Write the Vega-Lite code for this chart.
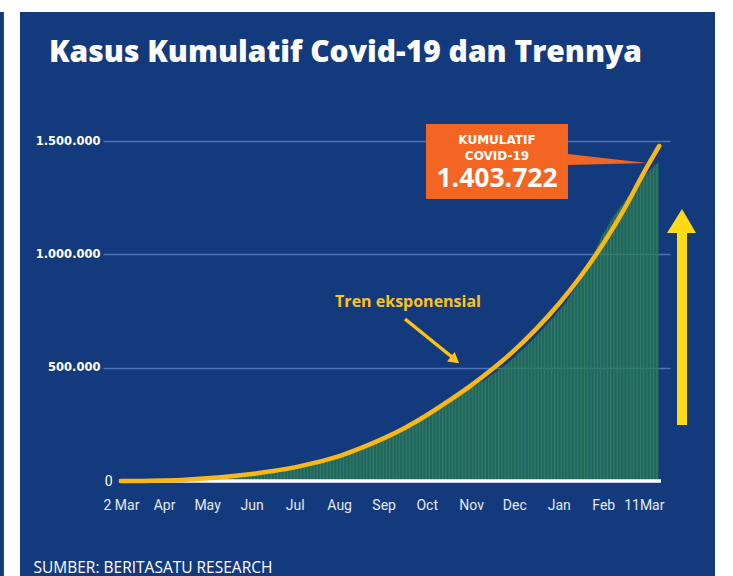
{
"$schema": "https://vega.github.io/schema/vega-lite/v6.json",
"width": 567, "height": 340, "autosize": "none",
"padding": {"left": 103, "top": 141, "right": 63, "bottom": 95},
"background": "#143a7e",
"config": {"view": {"stroke": null}},
"datasets": {
"strips": [
{"date": "2019-12-11T11:17:00Z", "date2": "2019-12-22T16:19:00Z", "value": -600000, "value2": 2069100},
{"date": "2019-11-01T00:00:00Z", "date2": "2021-06-01T00:00:00Z", "value": 2069100, "value2": 2300000},
{"date": "2021-04-19T20:24:00Z", "date2": "2021-06-01T00:00:00Z", "value": -600000, "value2": 2300000}
],
"headline": [{"date": "2020-01-11T21:07:00Z", "value": 1848500, "text": "Kasus Kumulatif Covid-19 dan Trennya"}],
"bars": [
{"date":"2020-03-02","value":2},{"date":"2020-03-03","value":2},{"date":"2020-03-04","value":2},{"date":"2020-03-05","value":2},{"date":"2020-03-06","value":4},{"date":"2020-03-07","value":4},{"date":"2020-03-08","value":6},{"date":"2020-03-09","value":19},{"date":"2020-03-10","value":27},{"date":"2020-03-11","value":34},{"date":"2020-03-12","value":34},{"date":"2020-03-13","value":69},{"date":"2020-03-14","value":96},{"date":"2020-03-15","value":117},{"date":"2020-03-16","value":134},{"date":"2020-03-17","value":172},{"date":"2020-03-18","value":227},{"date":"2020-03-19","value":309},{"date":"2020-03-20","value":369},{"date":"2020-03-21","value":450},{"date":"2020-03-22","value":514},{"date":"2020-03-23","value":579},{"date":"2020-03-24","value":686},{"date":"2020-03-25","value":790},{"date":"2020-03-26","value":893},{"date":"2020-03-27","value":1046},{"date":"2020-03-28","value":1155},{"date":"2020-03-29","value":1285},{"date":"2020-03-30","value":1414},{"date":"2020-03-31","value":1528},
{"date":"2020-04-01","value":1677},{"date":"2020-04-02","value":1790},{"date":"2020-04-03","value":1986},{"date":"2020-04-04","value":2092},{"date":"2020-04-05","value":2273},{"date":"2020-04-06","value":2491},{"date":"2020-04-07","value":2738},{"date":"2020-04-08","value":2956},{"date":"2020-04-09","value":3293},{"date":"2020-04-10","value":3512},{"date":"2020-04-11","value":3842},{"date":"2020-04-12","value":4241},{"date":"2020-04-13","value":4557},{"date":"2020-04-14","value":4839},{"date":"2020-04-15","value":5136},{"date":"2020-04-16","value":5516},{"date":"2020-04-17","value":5923},{"date":"2020-04-18","value":6248},{"date":"2020-04-19","value":6575},{"date":"2020-04-20","value":6760},{"date":"2020-04-21","value":7135},{"date":"2020-04-22","value":7418},{"date":"2020-04-23","value":7775},{"date":"2020-04-24","value":8211},{"date":"2020-04-25","value":8607},{"date":"2020-04-26","value":8882},{"date":"2020-04-27","value":9096},{"date":"2020-04-28","value":9511},{"date":"2020-04-29","value":9771},{"date":"2020-04-30","value":10118},
{"date":"2020-05-01","value":10551},{"date":"2020-05-02","value":10843},{"date":"2020-05-03","value":11192},{"date":"2020-05-04","value":11587},{"date":"2020-05-05","value":12071},{"date":"2020-05-06","value":12438},{"date":"2020-05-07","value":12776},{"date":"2020-05-08","value":13112},{"date":"2020-05-09","value":13645},{"date":"2020-05-10","value":14032},{"date":"2020-05-11","value":14265},{"date":"2020-05-12","value":14749},{"date":"2020-05-13","value":15438},{"date":"2020-05-14","value":16006},{"date":"2020-05-15","value":16496},{"date":"2020-05-16","value":17025},{"date":"2020-05-17","value":17514},{"date":"2020-05-18","value":18010},{"date":"2020-05-19","value":18496},{"date":"2020-05-20","value":19189},{"date":"2020-05-21","value":20162},{"date":"2020-05-22","value":20796},{"date":"2020-05-23","value":21745},{"date":"2020-05-24","value":22271},{"date":"2020-05-25","value":22750},{"date":"2020-05-26","value":23165},{"date":"2020-05-27","value":23851},{"date":"2020-05-28","value":24538},{"date":"2020-05-29","value":25216},{"date":"2020-05-30","value":25773},{"date":"2020-05-31","value":26473},
{"date":"2020-06-01","value":26940},{"date":"2020-06-02","value":27549},{"date":"2020-06-03","value":28233},{"date":"2020-06-04","value":28818},{"date":"2020-06-05","value":29521},{"date":"2020-06-06","value":30514},{"date":"2020-06-07","value":31186},{"date":"2020-06-08","value":32033},{"date":"2020-06-09","value":33076},{"date":"2020-06-10","value":34316},{"date":"2020-06-11","value":35295},{"date":"2020-06-12","value":36406},{"date":"2020-06-13","value":37420},{"date":"2020-06-14","value":38277},{"date":"2020-06-15","value":39294},{"date":"2020-06-16","value":40400},{"date":"2020-06-17","value":41431},{"date":"2020-06-18","value":42762},{"date":"2020-06-19","value":43803},{"date":"2020-06-20","value":45029},{"date":"2020-06-21","value":45891},{"date":"2020-06-22","value":46845},{"date":"2020-06-23","value":47896},{"date":"2020-06-24","value":49009},{"date":"2020-06-25","value":50187},{"date":"2020-06-26","value":51427},{"date":"2020-06-27","value":52812},{"date":"2020-06-28","value":54010},{"date":"2020-06-29","value":55092},{"date":"2020-06-30","value":56385},
{"date":"2020-07-01","value":57770},{"date":"2020-07-02","value":59394},{"date":"2020-07-03","value":60695},{"date":"2020-07-04","value":62142},{"date":"2020-07-05","value":63749},{"date":"2020-07-06","value":64958},{"date":"2020-07-07","value":66226},{"date":"2020-07-08","value":68079},{"date":"2020-07-09","value":70736},{"date":"2020-07-10","value":72347},{"date":"2020-07-11","value":74018},{"date":"2020-07-12","value":75699},{"date":"2020-07-13","value":76981},{"date":"2020-07-14","value":78572},{"date":"2020-07-15","value":80094},{"date":"2020-07-16","value":81668},{"date":"2020-07-17","value":83130},{"date":"2020-07-18","value":84882},{"date":"2020-07-19","value":86521},{"date":"2020-07-20","value":88214},{"date":"2020-07-21","value":89869},{"date":"2020-07-22","value":91751},{"date":"2020-07-23","value":93657},{"date":"2020-07-24","value":95418},{"date":"2020-07-25","value":97286},{"date":"2020-07-26","value":98778},{"date":"2020-07-27","value":100303},{"date":"2020-07-28","value":102051},{"date":"2020-07-29","value":104432},{"date":"2020-07-30","value":106336},{"date":"2020-07-31","value":108376},
{"date":"2020-08-01","value":109936},{"date":"2020-08-02","value":111455},{"date":"2020-08-03","value":113134},{"date":"2020-08-04","value":115056},{"date":"2020-08-05","value":116871},{"date":"2020-08-06","value":118753},{"date":"2020-08-07","value":121226},{"date":"2020-08-08","value":123503},{"date":"2020-08-09","value":125396},{"date":"2020-08-10","value":127083},{"date":"2020-08-11","value":128776},{"date":"2020-08-12","value":130718},{"date":"2020-08-13","value":132816},{"date":"2020-08-14","value":135123},{"date":"2020-08-15","value":137468},{"date":"2020-08-16","value":139549},{"date":"2020-08-17","value":141370},{"date":"2020-08-18","value":143043},{"date":"2020-08-19","value":144945},{"date":"2020-08-20","value":147211},{"date":"2020-08-21","value":149408},{"date":"2020-08-22","value":151498},{"date":"2020-08-23","value":153535},{"date":"2020-08-24","value":155412},{"date":"2020-08-25","value":157859},{"date":"2020-08-26","value":160165},{"date":"2020-08-27","value":162884},{"date":"2020-08-28","value":165887},{"date":"2020-08-29","value":169195},{"date":"2020-08-30","value":172053},{"date":"2020-08-31","value":174796},
{"date":"2020-09-01","value":177571},{"date":"2020-09-02","value":180646},{"date":"2020-09-03","value":184268},{"date":"2020-09-04","value":187537},{"date":"2020-09-05","value":190665},{"date":"2020-09-06","value":194109},{"date":"2020-09-07","value":196989},{"date":"2020-09-08","value":200035},{"date":"2020-09-09","value":203342},{"date":"2020-09-10","value":207203},{"date":"2020-09-11","value":210940},{"date":"2020-09-12","value":214746},{"date":"2020-09-13","value":218382},{"date":"2020-09-14","value":221523},{"date":"2020-09-15","value":225030},{"date":"2020-09-16","value":228993},{"date":"2020-09-17","value":232628},{"date":"2020-09-18","value":236519},{"date":"2020-09-19","value":240687},{"date":"2020-09-20","value":244676},{"date":"2020-09-21","value":248852},{"date":"2020-09-22","value":252923},{"date":"2020-09-23","value":257388},{"date":"2020-09-24","value":262022},{"date":"2020-09-25","value":266845},{"date":"2020-09-26","value":271339},{"date":"2020-09-27","value":275213},{"date":"2020-09-28","value":278722},{"date":"2020-09-29","value":282724},{"date":"2020-09-30","value":287008},
{"date":"2020-10-01","value":291182},{"date":"2020-10-02","value":295499},{"date":"2020-10-03","value":299506},{"date":"2020-10-04","value":303498},{"date":"2020-10-05","value":307120},{"date":"2020-10-06","value":311176},{"date":"2020-10-07","value":315714},{"date":"2020-10-08","value":320564},{"date":"2020-10-09","value":324658},{"date":"2020-10-10","value":328952},{"date":"2020-10-11","value":333449},{"date":"2020-10-12","value":336716},{"date":"2020-10-13","value":340622},{"date":"2020-10-14","value":344749},{"date":"2020-10-15","value":349160},{"date":"2020-10-16","value":353461},{"date":"2020-10-17","value":357762},{"date":"2020-10-18","value":361867},{"date":"2020-10-19","value":365240},{"date":"2020-10-20","value":368842},{"date":"2020-10-21","value":373109},{"date":"2020-10-22","value":377541},{"date":"2020-10-23","value":381910},{"date":"2020-10-24","value":385980},{"date":"2020-10-25","value":389712},{"date":"2020-10-26","value":392934},{"date":"2020-10-27","value":396454},{"date":"2020-10-28","value":400483},{"date":"2020-10-29","value":404048},{"date":"2020-10-30","value":406945},{"date":"2020-10-31","value":410088},
{"date":"2020-11-01","value":412784},{"date":"2020-11-02","value":415402},{"date":"2020-11-03","value":418375},{"date":"2020-11-04","value":421731},{"date":"2020-11-05","value":425796},{"date":"2020-11-06","value":429574},{"date":"2020-11-07","value":433836},{"date":"2020-11-08","value":437716},{"date":"2020-11-09","value":440569},{"date":"2020-11-10","value":444348},{"date":"2020-11-11","value":448118},{"date":"2020-11-12","value":452291},{"date":"2020-11-13","value":457735},{"date":"2020-11-14","value":463007},{"date":"2020-11-15","value":467113},{"date":"2020-11-16","value":470648},{"date":"2020-11-17","value":474455},{"date":"2020-11-18","value":478720},{"date":"2020-11-19","value":483518},{"date":"2020-11-20","value":488310},{"date":"2020-11-21","value":493308},{"date":"2020-11-22","value":497668},{"date":"2020-11-23","value":502110},{"date":"2020-11-24","value":506302},{"date":"2020-11-25","value":511836},{"date":"2020-11-26","value":516753},{"date":"2020-11-27","value":522581},{"date":"2020-11-28","value":527999},{"date":"2020-11-29","value":534266},{"date":"2020-11-30","value":538883},
{"date":"2020-12-01","value":543975},{"date":"2020-12-02","value":549508},{"date":"2020-12-03","value":557877},{"date":"2020-12-04","value":563680},{"date":"2020-12-05","value":569707},{"date":"2020-12-06","value":575796},{"date":"2020-12-07","value":581550},{"date":"2020-12-08","value":586842},{"date":"2020-12-09","value":592900},{"date":"2020-12-10","value":598933},{"date":"2020-12-11","value":605243},{"date":"2020-12-12","value":611631},{"date":"2020-12-13","value":617820},{"date":"2020-12-14","value":623309},{"date":"2020-12-15","value":629429},{"date":"2020-12-16","value":636154},{"date":"2020-12-17","value":643508},{"date":"2020-12-18","value":650197},{"date":"2020-12-19","value":657948},{"date":"2020-12-20","value":664930},{"date":"2020-12-21","value":671778},{"date":"2020-12-22","value":678125},{"date":"2020-12-23","value":685639},{"date":"2020-12-24","value":692838},{"date":"2020-12-25","value":700097},{"date":"2020-12-26","value":706837},{"date":"2020-12-27","value":713365},{"date":"2020-12-28","value":719219},{"date":"2020-12-29","value":727122},{"date":"2020-12-30","value":735124},{"date":"2020-12-31","value":743198},
{"date":"2021-01-01","value":751270},{"date":"2021-01-02","value":758473},{"date":"2021-01-03","value":765350},{"date":"2021-01-04","value":772103},{"date":"2021-01-05","value":779548},{"date":"2021-01-06","value":788402},{"date":"2021-01-07","value":797723},{"date":"2021-01-08","value":808340},{"date":"2021-01-09","value":818386},{"date":"2021-01-10","value":828026},{"date":"2021-01-11","value":836718},{"date":"2021-01-12","value":846765},{"date":"2021-01-13","value":858043},{"date":"2021-01-14","value":869600},{"date":"2021-01-15","value":882418},{"date":"2021-01-16","value":896642},{"date":"2021-01-17","value":907929},{"date":"2021-01-18","value":917015},{"date":"2021-01-19","value":927380},{"date":"2021-01-20","value":939948},{"date":"2021-01-21","value":951651},{"date":"2021-01-22","value":965283},{"date":"2021-01-23","value":977474},{"date":"2021-01-24","value":989262},{"date":"2021-01-25","value":999256},{"date":"2021-01-26","value":1012350},{"date":"2021-01-27","value":1024298},{"date":"2021-01-28","value":1037993},{"date":"2021-01-29","value":1051795},{"date":"2021-01-30","value":1066313},{"date":"2021-01-31","value":1078314},
{"date":"2021-02-01","value":1089308},{"date":"2021-02-02","value":1099687},{"date":"2021-02-03","value":1111671},{"date":"2021-02-04","value":1123105},{"date":"2021-02-05","value":1134854},{"date":"2021-02-06","value":1147010},{"date":"2021-02-07","value":1157837},{"date":"2021-02-08","value":1166079},{"date":"2021-02-09","value":1174779},{"date":"2021-02-10","value":1183555},{"date":"2021-02-11","value":1191990},{"date":"2021-02-12","value":1201859},{"date":"2021-02-13","value":1210703},{"date":"2021-02-14","value":1217468},{"date":"2021-02-15","value":1223930},{"date":"2021-02-16","value":1233959},{"date":"2021-02-17","value":1243646},{"date":"2021-02-18","value":1252685},{"date":"2021-02-19","value":1263299},{"date":"2021-02-20","value":1271353},{"date":"2021-02-21","value":1278653},{"date":"2021-02-22","value":1288833},{"date":"2021-02-23","value":1298608},{"date":"2021-02-24","value":1306141},{"date":"2021-02-25","value":1314634},{"date":"2021-02-26","value":1322866},{"date":"2021-02-27","value":1329074},{"date":"2021-02-28","value":1334634},
{"date":"2021-03-01","value":1341314},{"date":"2021-03-02","value":1347026},{"date":"2021-03-03","value":1353834},{"date":"2021-03-04","value":1361098},{"date":"2021-03-05","value":1368069},{"date":"2021-03-06","value":1373836},{"date":"2021-03-07","value":1379662},{"date":"2021-03-08","value":1386556},{"date":"2021-03-09","value":1392945},{"date":"2021-03-10","value":1398578},{"date":"2021-03-11","value":1403722}
],
"baseline": [{"date": "2020-02-29T15:36:00Z", "date2": "2021-03-13T05:31:00Z", "value": 0}],
"trend": [
{"date":"2020-03-02","value":0},{"date":"2020-03-17","value":500},{"date":"2020-04-01","value":2500},{"date":"2020-04-16","value":6000},{"date":"2020-05-01","value":12000},{"date":"2020-05-16","value":20000},{"date":"2020-06-01","value":31000},{"date":"2020-06-16","value":44000},{"date":"2020-07-01","value":60000},{"date":"2020-07-16","value":82000},{"date":"2020-08-01","value":110000},{"date":"2020-08-16","value":145000},{"date":"2020-09-01","value":188000},{"date":"2020-09-16","value":235000},{"date":"2020-10-01","value":290000},{"date":"2020-10-16","value":352000},{"date":"2020-11-01","value":422000},{"date":"2020-11-16","value":495000},{"date":"2020-12-01","value":576000},{"date":"2020-12-16","value":669000},{"date":"2021-01-01","value":781000},{"date":"2021-01-16","value":901000},{"date":"2021-02-01","value":1047000},{"date":"2021-02-16","value":1204000},{"date":"2021-03-01","value":1357000},{"date":"2021-03-12","value":1478000}
],
"box": [{"date": "2020-09-30T12:00:00Z", "date2": "2021-01-07T10:30:00Z", "value": 1244100, "value2": 1575000}],
"pointer": [{"date": "2021-01-07T10:30:00Z", "value": 1442600, "value2": 1394100}, {"date": "2021-03-03T11:30:00Z", "value": 1402900, "value2": 1402900}],
"boxlabel": [{"date": "2020-11-19T00:00:00Z", "value": 1486800, "text": "KUMULATIF"}, {"date": "2020-11-19T00:00:00Z", "value": 1414000, "text": "COVID-19"}],
"boxnumber": [{"date": "2020-11-19T00:00:00Z", "value": 1297100, "text": "1.403.722"}],
"trendlabel": [{"date": "2020-09-18T00:00:00Z", "value": 767600, "text": "Tren eksponensial"}],
"smallarrow": [{"date": "2020-09-15T21:00:00Z", "date2": "2020-10-18T15:00:00Z", "value": 714700, "value2": 547100}],
"smallhead": [{"date": "2020-10-20T17:00:00Z", "value": 533800}],
"bigshaft": [{"date": "2021-03-27T20:38:00Z", "value": 247100, "value2": 1100000}],
"bighead": [{"date": "2021-03-17T09:50:00Z", "value": 1094100, "value2": 1094100}, {"date": "2021-03-27T20:38:00Z", "value": 1200000, "value2": 1094100}, {"date": "2021-04-06T14:38:00Z", "value": 1094100, "value2": 1094100}]
},
"encoding": {
"x": {"field": "date", "type": "temporal",
 "scale": {"type": "utc", "padding": 0, "domain": [{"year": 2020, "month": 2, "date": 18, "hours": 12, "utc": true}, {"year": 2021, "month": 3, "date": 19, "hours": 12, "utc": true}]},
 "axis": {
  "values": [{"year": 2020, "month": 3, "date": 2, "utc": true}, {"year": 2020, "month": 4, "date": 1, "utc": true}, {"year": 2020, "month": 5, "date": 1, "utc": true}, {"year": 2020, "month": 6, "date": 1, "utc": true}, {"year": 2020, "month": 7, "date": 1, "utc": true}, {"year": 2020, "month": 8, "date": 1, "utc": true}, {"year": 2020, "month": 9, "date": 1, "utc": true}, {"year": 2020, "month": 10, "date": 1, "utc": true}, {"year": 2020, "month": 11, "date": 1, "utc": true}, {"year": 2020, "month": 12, "date": 1, "utc": true}, {"year": 2021, "month": 1, "date": 1, "utc": true}, {"year": 2021, "month": 2, "date": 1, "utc": true}, {"year": 2021, "month": 3, "date": 11, "utc": true}],
  "labelExpr": "utcdate(datum.value) == 2 ? '2 Mar' : (utcdate(datum.value) == 11 ? '11Mar' : utcFormat(datum.value, '%b'))",
  "labelFont": "Roboto", "labelFontSize": 14, "labelColor": "#e4e9f2", "labelPadding": 17,
  "labelOffset": {"condition": {"test": "utcdate(datum.value) == 11", "value": -14}, "value": 0},
  "labelOverlap": false, "labelFlush": false,
  "ticks": false, "domain": false, "grid": false,
  "title": "SUMBER: BERITASATU RESEARCH", "titleFont": "Open Sans", "titleFontSize": 15.5, "titleFontWeight": "normal", "titleColor": "#ffffff",
  "titleAnchor": "start", "titleAlign": "left", "titleBaseline": "alphabetic", "titleX": -70, "titleY": 91
 }},
"y": {"field": "value", "type": "quantitative",
 "scale": {"domain": [0, 1500000], "nice": false, "zero": true, "padding": 0},
 "axis": {
  "values": [0, 500000, 1000000, 1500000],
  "labelExpr": "replace(format(datum.value, ',d'), regexp(',', 'g'), '.')",
  "labelFont": {"condition": {"test": "datum.value === 0", "value": "Roboto"}, "value": "DejaVu Sans"},
  "labelFontWeight": {"condition": {"test": "datum.value === 0", "value": "normal"}, "value": "bold"},
  "labelFontSize": {"condition": {"test": "datum.value === 0", "value": 14}, "value": 11.5},
  "labelPadding": {"condition": {"test": "datum.value === 0", "value": -9}, "value": 3},
  "labelColor": "#ffffff",
  "ticks": false, "domain": false,
  "gridColor": "#4a76b8", "gridWidth": 1.5,
  "gridOpacity": {"condition": {"test": "datum.value === 0", "value": 0}, "value": 1},
  "title": null
 }}
},
"layer": [
{"data": {"name": "strips"}, "mark": {"type": "rect", "color": "#ffffff"}, "encoding": {"x2": {"field": "date2"}, "y2": {"field": "value2"}}},
{"data": {"name": "headline"}, "mark": {"type": "text", "color": "#ffffff", "font": "Open Sans", "fontWeight": 800, "fontSize": 30, "align": "left", "baseline": "alphabetic"}, "encoding": {"text": {"field": "text"}}},
{"data": {"name": "bars"}, "mark": {"type": "bar", "color": "#2d7e58", "width": 1.15}},
{"data": {"name": "baseline"}, "mark": {"type": "rule", "color": "#ffffff", "strokeWidth": 3.5}, "encoding": {"x2": {"field": "date2"}}},
{"data": {"name": "trend"}, "mark": {"type": "line", "color": "#f8b918", "strokeWidth": 4.5, "interpolate": "monotone", "strokeCap": "round"}},
{"data": {"name": "box"}, "mark": {"type": "rect", "color": "#f26522"}, "encoding": {"x2": {"field": "date2"}, "y2": {"field": "value2"}}},
{"data": {"name": "pointer"}, "mark": {"type": "area", "color": "#f26522", "opacity": 1}, "encoding": {"y2": {"field": "value2"}}},
{"data": {"name": "boxlabel"}, "mark": {"type": "text", "color": "#ffffff", "font": "DejaVu Sans", "fontWeight": "bold", "fontSize": 12, "align": "center", "baseline": "alphabetic"}, "encoding": {"text": {"field": "text"}}},
{"data": {"name": "boxnumber"}, "mark": {"type": "text", "color": "#ffffff", "font": "Open Sans", "fontWeight": "bold", "fontSize": 26.5, "align": "center", "baseline": "alphabetic"}, "encoding": {"text": {"field": "text"}}},
{"data": {"name": "trendlabel"}, "mark": {"type": "text", "color": "#fcc419", "font": "Open Sans", "fontWeight": "bold", "fontSize": 16, "align": "center", "baseline": "alphabetic"}, "encoding": {"text": {"field": "text"}}},
{"data": {"name": "smallarrow"}, "mark": {"type": "rule", "color": "#fcc419", "strokeWidth": 3.5}, "encoding": {"x2": {"field": "date2"}, "y2": {"field": "value2"}}},
{"data": {"name": "smallhead"}, "mark": {"type": "point", "shape": "triangle-up", "filled": true, "color": "#fcc419", "size": 150, "angle": 129, "opacity": 1}},
{"data": {"name": "bigshaft"}, "mark": {"type": "rule", "color": "#ffda17", "strokeWidth": 10, "strokeCap": "butt"}, "encoding": {"y2": {"field": "value2"}}},
{"data": {"name": "bighead"}, "mark": {"type": "area", "color": "#ffda17", "opacity": 1}, "encoding": {"y2": {"field": "value2"}}}
]
}
